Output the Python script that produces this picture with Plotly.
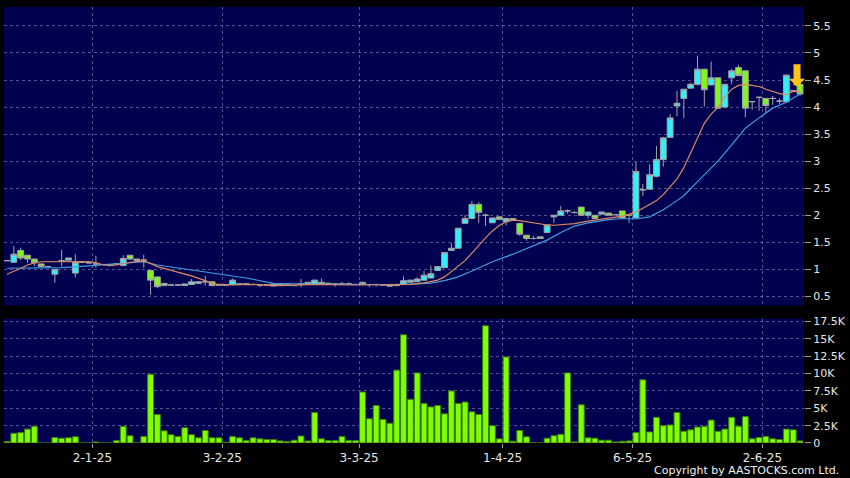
import plotly.graph_objects as go

# ---------------- data ----------------
opens = [1.16, 1.13, 1.35, 1.26, 1.19, 1.10, 1.05, 0.91, 1.16, 1.17,
         0.93, 1.13, 1.12, 1.10, 1.09, 1.09, 1.10, 1.07, 1.26, 1.19,
         1.17, 0.98, 0.86, 0.70, 0.71, 0.71, 0.70, 0.72, 0.74, 0.77,
         0.77, 0.71, 0.71, 0.72, 0.73, 0.73, 0.72, 0.71, 0.71, 0.69,
         0.72, 0.71, 0.70, 0.73, 0.73, 0.72, 0.76, 0.74, 0.73, 0.73,
         0.73, 0.72, 0.76, 0.72, 0.72, 0.71, 0.71, 0.70, 0.72, 0.76,
         0.77, 0.80, 0.84, 0.98, 1.03, 1.35, 1.39, 1.85, 1.94, 2.20,
         2.00, 1.86, 1.97, 1.88, 1.94, 1.85, 1.63, 1.57, 1.57, 1.68,
         1.97, 2.00, 2.08, 2.05, 2.15, 2.00, 2.00, 2.02, 2.04, 2.01,
         2.08, 2.00, 1.95, 2.47, 2.48, 2.72, 3.03, 3.44, 4.02, 4.16,
         4.35, 4.42, 4.70, 4.41, 4.54, 4.00, 4.54, 4.73, 4.67, 4.10,
         4.18, 4.16, 4.16, 4.11, 4.10, 4.30, 4.42]
highs = [1.16, 1.43, 1.40, 1.27, 1.19, 1.10, 1.05, 1.00, 1.36, 1.21,
         1.28, 1.13, 1.12, 1.25, 1.09, 1.09, 1.12, 1.26, 1.27, 1.19,
         1.27, 0.99, 0.86, 0.75, 0.73, 0.71, 0.73, 0.82, 0.78, 0.88,
         0.77, 0.71, 0.71, 0.83, 0.73, 0.73, 0.72, 0.71, 0.71, 0.73,
         0.72, 0.71, 0.70, 0.82, 0.76, 0.81, 0.83, 0.74, 0.73, 0.77,
         0.76, 0.72, 0.77, 0.72, 0.72, 0.71, 0.71, 0.70, 0.87, 0.80,
         0.85, 0.97, 1.07, 1.05, 1.31, 1.49, 1.76, 2.00, 2.26, 2.24,
         2.03, 1.95, 1.98, 1.94, 1.94, 1.85, 1.63, 1.62, 1.60, 1.82,
         2.00, 2.17, 2.11, 2.08, 2.15, 2.06, 2.00, 2.06, 2.04, 2.01,
         2.08, 2.00, 2.99, 2.58, 2.94, 3.28, 3.45, 3.87, 4.30, 4.33,
         4.45, 4.95, 4.71, 4.84, 4.55, 4.43, 4.70, 4.78, 4.67, 4.10,
         4.19, 4.16, 4.21, 4.16, 4.60, 4.30, 4.43]
lows = [1.16, 1.12, 1.17, 1.12, 1.06, 1.04, 1.05, 0.75, 1.05, 1.17,
        0.85, 1.13, 1.12, 1.03, 1.09, 1.09, 1.08, 1.06, 1.18, 1.16,
        1.03, 0.53, 0.65, 0.69, 0.70, 0.71, 0.70, 0.71, 0.74, 0.70,
        0.70, 0.71, 0.71, 0.71, 0.73, 0.73, 0.72, 0.67, 0.71, 0.69,
        0.72, 0.71, 0.70, 0.67, 0.73, 0.71, 0.71, 0.74, 0.68, 0.73,
        0.73, 0.72, 0.70, 0.67, 0.68, 0.71, 0.69, 0.70, 0.71, 0.76,
        0.77, 0.80, 0.83, 0.97, 1.03, 1.35, 1.39, 1.85, 1.93, 1.86,
        1.80, 1.86, 1.92, 1.81, 1.91, 1.62, 1.53, 1.55, 1.57, 1.68,
        1.86, 2.00, 2.03, 2.03, 2.00, 1.94, 1.94, 2.02, 2.00, 2.01,
        1.95, 1.86, 1.95, 2.35, 2.48, 2.70, 2.90, 3.44, 3.83, 3.80,
        4.35, 4.40, 4.01, 4.40, 3.97, 3.98, 4.42, 4.58, 3.81, 3.95,
        3.93, 3.90, 4.04, 4.06, 4.08, 4.30, 4.21]
closes = [1.16, 1.28, 1.21, 1.19, 1.12, 1.05, 1.05, 1.00, 1.16, 1.21,
          1.13, 1.13, 1.12, 1.10, 1.09, 1.09, 1.10, 1.20, 1.19, 1.16,
          1.17, 0.80, 0.68, 0.74, 0.71, 0.71, 0.73, 0.77, 0.77, 0.77,
          0.70, 0.71, 0.71, 0.80, 0.73, 0.73, 0.72, 0.71, 0.71, 0.73,
          0.72, 0.71, 0.70, 0.73, 0.76, 0.80, 0.72, 0.74, 0.73, 0.73,
          0.73, 0.72, 0.72, 0.72, 0.72, 0.71, 0.69, 0.70, 0.79, 0.80,
          0.82, 0.89, 0.92, 1.05, 1.31, 1.39, 1.76, 1.94, 2.20, 2.05,
          2.00, 1.95, 1.92, 1.94, 1.91, 1.65, 1.57, 1.57, 1.60, 1.82,
          2.00, 2.08, 2.08, 2.05, 2.00, 2.06, 1.94, 2.06, 2.00, 2.01,
          1.95, 2.00, 2.81, 2.47, 2.75, 3.03, 3.43, 3.80, 4.07, 4.33,
          4.42, 4.70, 4.32, 4.54, 3.98, 4.42, 4.67, 4.58, 3.98, 4.10,
          4.18, 4.03, 4.16, 4.11, 4.59, 4.30, 4.24]
volume_k = [0.2, 1.4, 1.5, 2.0, 2.4, 0, 0, 0.8, 0.7, 0.75,
            0.9, 0, 0, 0.15, 0, 0, 0.35, 2.4, 1.05, 0,
            0.95, 9.9, 4.1, 1.75, 1.2, 0.95, 2.2, 1.2, 0.75, 1.8,
            0.75, 0.75, 0.1, 0.95, 0.75, 0.35, 0.75, 0.6, 0.5, 0.5,
            0.3, 0.2, 0.4, 1.0, 0.3, 4.4, 0.6, 0.35, 0.35, 0.95,
            0.35, 0.35, 7.35, 3.5, 5.4, 3.4, 2.85, 10.5, 15.6, 6.3,
            10.1, 5.7, 5.2, 5.4, 4.2, 7.5, 5.7, 5.9, 4.5, 4.1,
            16.9, 2.5, 0.6, 12.4, 0.25, 1.8, 0.9, 0.05, 0, 0.7,
            1.05, 1.25, 10.1, 0.15, 5.5, 0.75, 0.7, 0.4, 0.4, 0.15,
            0.25, 0.3, 1.5, 9.1, 1.6, 3.7, 2.5, 2.6, 4.4, 1.7,
            1.9, 2.3, 2.4, 3.3, 1.7, 2.0, 3.7, 2.4, 3.8, 0.6,
            0.8, 0.95, 0.6, 0.5, 2.0, 1.9, 0.3]

# moving averages (bar index, value)
ma10_idx = [0, 1, 2, 3, 4, 5, 8, 12, 13, 14, 15, 16, 17, 18, 19, 20, 21, 22, 25, 27,
            29, 30, 31, 33, 36, 40, 45, 50, 55, 59, 61, 63, 64, 65, 66, 67, 68, 69, 70, 71,
            72, 73, 74, 75, 76, 77, 78, 79, 80, 81, 83, 85, 88, 90, 91, 92, 93, 94, 95, 96,
            97, 98, 99, 100, 101, 102, 103, 104, 105, 106, 107, 108, 109, 110, 111, 112, 113, 114, 115, 116]
ma10_val = [0.91, 0.96, 1.02, 1.08, 1.12, 1.14, 1.145, 1.145, 1.12, 1.085, 1.07, 1.08, 1.11, 1.13, 1.145, 1.15, 1.11, 1.05, 0.95, 0.88,
            0.79, 0.74, 0.72, 0.71, 0.72, 0.70, 0.72, 0.71, 0.715, 0.72, 0.75, 0.80, 0.86, 0.96, 1.06, 1.16, 1.30, 1.45, 1.58, 1.71,
            1.81, 1.88, 1.91, 1.90, 1.88, 1.85, 1.83, 1.82, 1.815, 1.825, 1.845, 1.89, 1.95, 1.985, 2.02, 2.06, 2.13, 2.20, 2.27, 2.38,
            2.52, 2.67, 2.88, 3.15, 3.42, 3.70, 3.87, 4.00, 4.18, 4.33, 4.40, 4.42, 4.40, 4.38, 4.33, 4.29, 4.25, 4.23, 4.29, 4.29]
ma20_idx = [0, 5, 8, 10, 12, 14, 16, 18, 20, 22, 25, 30, 35, 39, 41, 45, 50, 55, 60, 62,
            64, 66, 68, 69, 71, 74, 76, 79, 81, 83, 85, 88, 90, 92, 94, 96, 98, 99, 101, 104,
            106, 108, 110, 112, 114, 116]
ma20_val = [1.02, 1.02, 1.03, 1.045, 1.065, 1.08, 1.095, 1.125, 1.14, 1.08, 1.025, 0.93, 0.84, 0.74, 0.73, 0.72, 0.72, 0.715, 0.73, 0.745,
            0.79, 0.86, 0.97, 1.03, 1.14, 1.28, 1.39, 1.54, 1.68, 1.80, 1.86, 1.92, 1.94, 1.93, 1.97, 2.10, 2.27, 2.36, 2.62, 3.00,
            3.30, 3.61, 3.80, 3.98, 4.09, 4.24]

month_first_bar = [13, 32, 52, 73, 92, 111]
month_labels = ["2-1-25", "3-2-25", "3-3-25", "1-4-25", "6-5-25", "2-6-25"]
price_ticks = [0.5, 1, 1.5, 2, 2.5, 3, 3.5, 4, 4.5, 5, 5.5]
price_tick_text = ["0.5", "1", "1.5", "2", "2.5", "3", "3.5", "4", "4.5", "5", "5.5"]
vol_ticks_k = [0, 2.5, 5, 7.5, 10, 12.5, 15, 17.5]
vol_tick_text = ["0", "2.5K", "5K", "7.5K", "10K", "12.5K", "15K", "17.5K"]

# ---------------- styling ----------------
BG = "#000050"
GRID = "rgba(150,150,200,0.55)"
CYAN = "#30f0fa"
LIME = "#80f51e"
WICK = "#a4a4a4"
FONT = "DejaVu Sans"

n = len(closes)
idx = list(range(n))
doji = [i for i in idx if opens[i] == closes[i]]
body = [i for i in idx if opens[i] != closes[i]]

fig = go.Figure()

fig.add_trace(go.Scatter(x=ma20_idx, y=ma20_val, mode="lines",
                         line=dict(color="#3d9fe0", width=1.2), xaxis="x", yaxis="y",
                         hoverinfo="skip"))
fig.add_trace(go.Scatter(x=ma10_idx, y=ma10_val, mode="lines",
                         line=dict(color="#dc8a62", width=1.2), xaxis="x", yaxis="y",
                         hoverinfo="skip"))

fig.add_trace(go.Candlestick(
    x=body, open=[opens[i] for i in body], high=[highs[i] for i in body],
    low=[lows[i] for i in body], close=[closes[i] for i in body],
    increasing=dict(fillcolor=CYAN, line=dict(color=WICK, width=1)),
    decreasing=dict(fillcolor=LIME, line=dict(color=WICK, width=1)),
    whiskerwidth=0, xaxis="x", yaxis="y"))
fig.add_trace(go.Candlestick(
    x=doji, open=[opens[i] for i in doji], high=[highs[i] for i in doji],
    low=[lows[i] for i in doji], close=[closes[i] for i in doji],
    increasing=dict(fillcolor=WICK, line=dict(color=WICK, width=1)),
    decreasing=dict(fillcolor=WICK, line=dict(color=WICK, width=1)),
    whiskerwidth=0, xaxis="x", yaxis="y"))

fig.add_trace(go.Bar(x=idx, y=[v * 1000 for v in volume_k], width=0.86,
                     marker=dict(color="#80ff00", line=dict(color="#3b7d0a", width=1)),
                     xaxis="x2", yaxis="y2"))

tick_pos = [b - 0.5 for b in month_first_bar]
xrange_ = [-0.44, n - 1 + 0.58]

axis_font = dict(family=FONT, size=12, color="#e6e6e6")

fig.update_layout(
    width=850, height=478,
    margin=dict(l=4, r=42, t=5, b=35),
    paper_bgcolor="black", plot_bgcolor=BG,
    showlegend=False, boxgap=0.15, boxgroupgap=0.0,
    font=dict(family=FONT, color="#e6e6e6"),
    xaxis=dict(domain=[0, 1], range=xrange_, anchor="y", rangeslider=dict(visible=False),
               tickvals=tick_pos, showticklabels=False, ticks="",
               showgrid=True, gridcolor=GRID, griddash="3px,3px", gridwidth=1,
               zeroline=False, showline=False),
    yaxis=dict(domain=[0.3151, 1], range=[0.329, 5.85], side="right", anchor="x",
               tickvals=price_ticks, ticktext=price_tick_text,
               ticks="outside", ticklen=6, tickcolor="#9a9a9a", tickfont=dict(family=FONT, size=11, color="#e6e6e6"),
               showgrid=True, gridcolor=GRID, griddash="3px,3px", gridwidth=1,
               zeroline=False, showline=False),
    xaxis2=dict(domain=[0, 1], range=xrange_, anchor="y2", matches="x",
                tickvals=tick_pos, ticktext=month_labels,
                ticks="outside", ticklen=4, tickcolor="#9a9a9a", tickfont=axis_font,
                showgrid=True, gridcolor=GRID, griddash="3px,3px", gridwidth=1,
                zeroline=False, showline=False),
    yaxis2=dict(domain=[0, 0.2854], range=[0, 17930], side="right", anchor="x2",
                tickvals=[v * 1000 for v in vol_ticks_k], ticktext=vol_tick_text,
                ticks="outside", ticklen=6, tickcolor="#9a9a9a", tickfont=dict(family=FONT, size=11, color="#e6e6e6"),
                showgrid=True, gridcolor=GRID, griddash="3px,3px", gridwidth=1,
                zeroline=False, showline=False),
)

# yellow marker arrow pointing at the latest bar
fig.add_annotation(x=n - 1, y=highs[-1], xref="x", yref="y", text="",
                   showarrow=True, ax=0, ay=-24, arrowcolor="#ffc414",
                   arrowwidth=7, arrowhead=1, arrowsize=0.38, xshift=-3, yshift=-3)

fig.add_annotation(x=1.046, y=-0.064, xref="paper", yref="paper", text="Copyright by AASTOCKS.com Ltd.",
                   showarrow=False, xanchor="right", yanchor="middle",
                   font=dict(family=FONT, size=11, color="#f0f0f0"))

fig.write_html("out.html", config={"displayModeBar": False},
               post_script="document.body.style.margin='0';document.body.style.background='black';")
